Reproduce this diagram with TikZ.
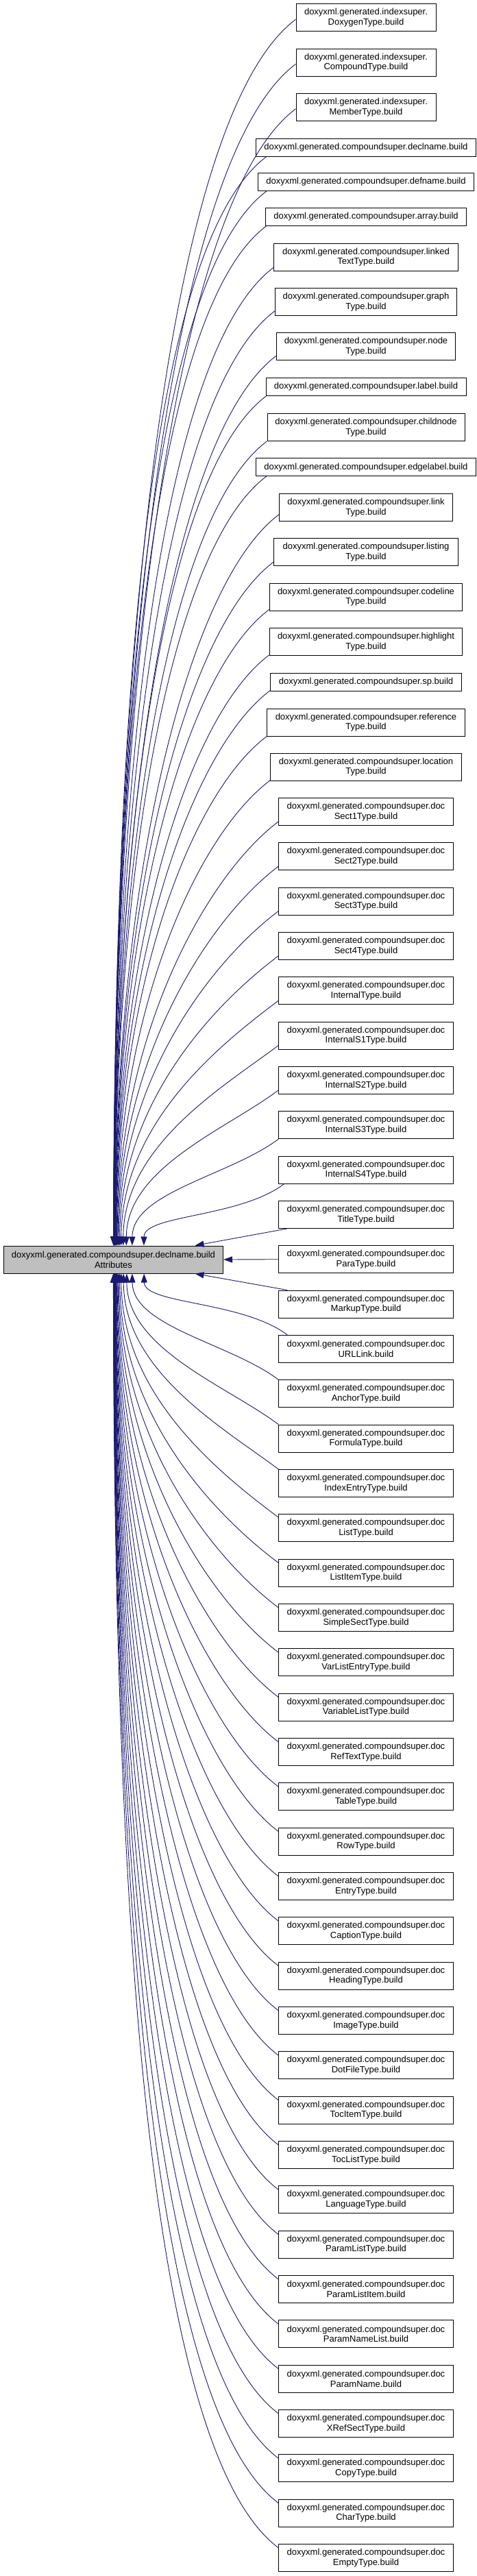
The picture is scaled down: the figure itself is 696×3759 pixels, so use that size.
\documentclass[tikz,border=0pt]{standalone}
\usepackage{fontspec}
\setmainfont{Liberation Sans}
\usetikzlibrary{arrows.meta,calc}
\definecolor{edgeblue}{HTML}{191970}
\definecolor{maingray}{HTML}{BFBFBF}
\begin{document}
\begin{tikzpicture}[x=1pt,y=-1pt,
  box/.style={draw=black,line width=1pt,fill=white,align=center,inner sep=0pt,font=\fontsize{13}{14.7}\selectfont},
  two/.style={box,minimum height=40pt},
  one/.style={box,minimum height=25.7pt},
  conn/.style={draw=edgeblue,line width=0.9pt,-{Triangle[length=13pt,width=9pt]}}]
\useasboundingbox (0,0) rectangle (696,3759);

\node[two,fill=maingray,minimum width=320pt] (main) at (165.5,1838) {doxyxml.generated.compoundsuper.declname.build\\Attributes};

\node[two,minimum width=204pt] (d1) at (534,25.8) {doxyxml.generated.indexsuper.\\DoxygenType.build};
\node[two,minimum width=204pt] (d2) at (534,91) {doxyxml.generated.indexsuper.\\CompoundType.build};
\node[two,minimum width=204pt] (d3) at (534,156.3) {doxyxml.generated.indexsuper.\\MemberType.build};
\node[one,minimum width=320.5pt] (d4) at (534,215.2) {doxyxml.generated.compoundsuper.declname.build};
\node[one,minimum width=315pt] (d5) at (534,265.5) {doxyxml.generated.compoundsuper.defname.build};
\node[one,minimum width=293.5pt] (d6) at (534,316.3) {doxyxml.generated.compoundsuper.array.build};
\node[two,minimum width=269pt] (d7) at (534,375) {doxyxml.generated.compoundsuper.linked\\TextType.build};
\node[two,minimum width=265.5pt] (d8) at (534,440.5) {doxyxml.generated.compoundsuper.graph\\Type.build};
\node[two,minimum width=261pt] (d9) at (534,505.8) {doxyxml.generated.compoundsuper.node\\Type.build};
\node[one,minimum width=292pt] (d10) at (534,564.5) {doxyxml.generated.compoundsuper.label.build};
\node[two,minimum width=288pt] (d11) at (534,623.3) {doxyxml.generated.compoundsuper.childnode\\Type.build};
\node[one,minimum width=320.5pt] (d12) at (534,681.7) {doxyxml.generated.compoundsuper.edgelabel.build};
\node[two,minimum width=253pt] (d13) at (534,740.3) {doxyxml.generated.compoundsuper.link\\Type.build};
\node[two,minimum width=269pt] (d14) at (534,805.7) {doxyxml.generated.compoundsuper.listing\\Type.build};
\node[two,minimum width=281.6pt] (d15) at (534,871) {doxyxml.generated.compoundsuper.codeline\\Type.build};
\node[two,minimum width=281.6pt] (d16) at (534,936.3) {doxyxml.generated.compoundsuper.highlight\\Type.build};
\node[one,minimum width=278.5pt] (d17) at (534,995.2) {doxyxml.generated.compoundsuper.sp.build};
\node[two,minimum width=288.5pt] (d18) at (534,1054) {doxyxml.generated.compoundsuper.reference\\Type.build};
\node[two,minimum width=278.5pt] (d19) at (534,1119.2) {doxyxml.generated.compoundsuper.location\\Type.build};

\foreach \k/\sfx in {20/Sect1Type,21/Sect2Type,22/Sect3Type,23/Sect4Type,24/InternalType,25/InternalS1Type,26/InternalS2Type,27/InternalS3Type,28/InternalS4Type,29/TitleType,30/ParaType,31/MarkupType,32/URLLink,33/AnchorType,34/FormulaType,35/IndexEntryType,36/ListType,37/ListItemType,38/SimpleSectType,39/VarListEntryType,40/VariableListType,41/RefTextType,42/TableType,43/RowType,44/EntryType,45/CaptionType,46/HeadingType,47/ImageType,48/DotFileType,49/TocItemType,50/TocListType,51/LanguageType,52/ParamListType,53/ParamListItem,54/ParamNameList,55/ParamName,56/XRefSectType,57/CopyType,58/CharType,59/EmptyType}
  \node[two,minimum width=254.5pt] (d\k) at (534,{1837.7+65.3333*(\k-30)}) {doxyxml.generated.compoundsuper.doc\\\sfx.build};

% edges from nodes above the main node
\foreach \nm/\ox/\oy/\sy in {d1/0/-18/27.8,d2/0/-18/93,d3/0/-18/158.3,d4/15.5/0/228,d5/13/0/278.4,d6/2/0/329.2,d7/0/-5/390,d8/0/-7/453.5,d9/0/-7/518.8,d10/1/0/577.3,d11/0/0/643.3,d12/15.5/0/694.5,d13/0/-10/750.3,d14/0/-6/819.7,d15/0/-2/889,d16/0/-1/955.3,d17/0/-1/1007,d18/0/0/1074,d19/0/-1/1138.2,d20/0/-6/1198.4,d21/0/-6/1263.7,d22/0/-6/1329.0,d23/0/-6/1394.4,d24/0/-6/1459.7,d25/0/-6/1525.0,d26/0/-6/1590.4,d27/0/0/1661.7,d28/8.5/0/1727.0}{
  \pgfmathsetmacro\eD{1818-\sy}
  \pgfmathsetmacro\eB{60+0.07*\eD}
  \pgfmathsetmacro\eV{0.75*\eB}
  \pgfmathsetmacro\eX{163+5500/(\eD+25)}
  \pgfmathsetmacro\eO{\eX-5.5}
  \pgfmathsetmacro\eY{1818-0.5*\eD}
  \draw[conn] ($(\nm.south west)+(\ox,\oy)$) .. controls +(-\eB,\eV) and (\eX,\eY) .. ($(main.north west)+(\eO,0)$);
}

% edges from nodes below the main node
\foreach \nm/\ox/\oy/\sy in {d32/13/0/1948.37,d33/0/0/2013.70,d34/0/0/2079.03,d35/0/0/2144.37,d36/0/5/2214.70,d37/0/6/2281.03,d38/0/6/2346.37,d39/0/6/2411.70,d40/0/6/2477.03,d41/0/6/2542.37,d42/0/6/2607.70,d43/0/6/2673.03,d44/0/6/2738.37,d45/0/6/2803.70,d46/0/6/2869.03,d47/0/6/2934.37,d48/0/6/2999.70,d49/0/6/3065.03,d50/0/6/3130.37,d51/0/6/3195.70,d52/0/6/3261.03,d53/0/6/3326.37,d54/0/6/3391.70,d55/0/6/3457.03,d56/0/6/3522.37,d57/0/6/3587.70,d58/0/6/3653.03,d59/0/6/3718.37}{
  \pgfmathsetmacro\eD{\sy-1858}
  \pgfmathsetmacro\eB{60+0.07*\eD}
  \pgfmathsetmacro\eV{0.75*\eB}
  \pgfmathsetmacro\eX{163+5500/(\eD+25)}
  \pgfmathsetmacro\eO{\eX-5.5}
  \pgfmathsetmacro\eY{1858+0.5*\eD}
  \draw[conn] ($(\nm.north west)+(\ox,\oy)$) .. controls +(-\eB,-\eV) and (\eX,\eY) .. ($(main.south west)+(\eO,0)$);
}

\draw[conn] ($(d29.south west)+(13,0)$) -- ($(main.north west)+(279.5,0)$);
\draw[conn] (d30.west) -- (main.east);
\draw[conn] ($(d31.north west)+(13,0)$) -- ($(main.south west)+(279.5,0)$);
\end{tikzpicture}
\end{document}
